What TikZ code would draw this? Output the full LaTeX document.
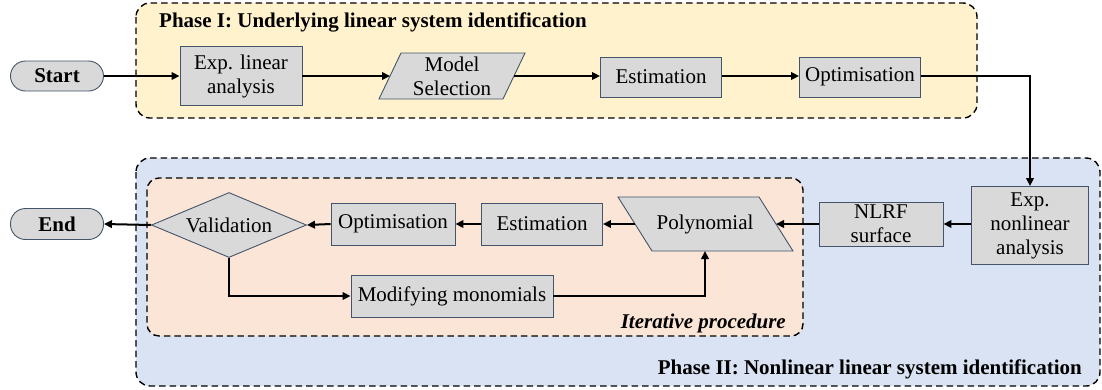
\documentclass[tikz,border=0pt]{standalone}
\usepackage{fontspec}
\setmainfont{Liberation Serif}
\usetikzlibrary{shapes.geometric,arrows.meta}
\definecolor{phaseone}{HTML}{FFF2CC}
\definecolor{phasetwo}{HTML}{DAE3F3}
\definecolor{iterfill}{HTML}{FBE5D6}
\definecolor{boxfill}{HTML}{D9D9D9}
\definecolor{boxline}{HTML}{44546A}
\begin{document}
\begin{tikzpicture}[x=1pt,y=-1pt,
  every node/.style={font=\fontsize{21}{24}\selectfont, inner sep=0pt, align=center},
  procbox/.style={draw=boxline, line width=0.9pt, fill=boxfill, rectangle},
  termbox/.style={procbox, rounded corners=15pt, font=\fontsize{21}{24}\selectfont\bfseries},
  ioshape/.style={draw=boxline, line width=0.9pt, fill=boxfill},
  decbox/.style={draw=boxline, line width=0.9pt, fill=boxfill, diamond},
  groupbox/.style={draw=black, line width=1.4pt, dash pattern=on 6.5pt off 4pt, rounded corners=14pt},
  conn/.style={draw=black, line width=2pt, -{Triangle[length=8pt,width=7.5pt]}},
  grouptitle/.style={font=\fontsize{21}{24}\selectfont\bfseries}
]
\useasboundingbox (0,0) rectangle (1102,389);
% group boxes
\draw[groupbox, fill=phaseone] (136,3) rectangle (977,118);
\draw[groupbox, fill=phasetwo] (136,158) rectangle (1100,386);
\draw[groupbox, fill=iterfill, rounded corners=12pt] (147,178) rectangle (803,336);
\node[grouptitle, anchor=west] (t1) at (159,22.5) {Phase I: Underlying linear system identification};
\node[grouptitle, anchor=east] (t2) at (1082,369) {Phase II: Nonlinear linear system identification};
\node[grouptitle, font=\fontsize{21}{24}\selectfont\bfseries\itshape, anchor=east] (t3) at (786,323) {Iterative procedure};
% parallelogram outlines (drawn under their text nodes)
\draw[ioshape] (401,53) -- (525,53) -- (503,99) -- (379,99) -- cycle;
\draw[ioshape] (618,197) -- (759,197) -- (793,251) -- (652,251) -- cycle;
\coordinate (modelW) at (390,76);
\coordinate (modelE) at (514,76);
\coordinate (polyE) at (776,224);
\coordinate (polyW) at (635,224);
\coordinate (polyS) at (705,251);
% nodes
\node[termbox, minimum width=93pt, minimum height=30pt] (start) at (57,76) {Start};
\node[procbox, minimum width=122pt, minimum height=59pt] (expl) at (241,76) {Exp. linear\\analysis};
\node (model) at (452,76) {Model\\Selection};
\node[procbox, minimum width=121pt, minimum height=40pt] (est1) at (661,77) {Estimation};
\node[procbox, minimum width=121pt, minimum height=40pt] (opt1) at (860,77) {Optimisation};
\node[procbox, minimum width=117pt, minimum height=78pt] (expn) at (1030,225.5) {Exp.\\nonlinear\\analysis};
\node[procbox, minimum width=124pt, minimum height=44pt] (nlrf) at (881,224) {NLRF\\surface};
\node (poly) at (705,224) {Polynomial};
\node[procbox, minimum width=121pt, minimum height=42pt] (est2) at (542,224) {Estimation};
\node[procbox, minimum width=124pt, minimum height=42pt] (opt2) at (393,224) {Optimisation};
\node[decbox, aspect=2.4, minimum width=155pt, minimum height=65pt] (valid) at (229,225) {Validation};
\node[termbox, minimum width=93pt, minimum height=31pt] (end) at (57,224) {End};
\node[procbox, minimum width=202pt, minimum height=42pt] (modify) at (452,296) {Modifying monomials};
% connectors
\draw[conn] (start.east) -- (expl.west |- start.east);
\draw[conn] (expl.east |- modelW) -- (modelW);
\draw[conn] (modelE) -- (est1.west |- modelE);
\draw[conn] (est1.east |- modelE) -- (opt1.west |- modelE);
\draw[conn] (opt1.east |- modelE) -| (expn.north);
\draw[conn] (expn.west |- nlrf.east) -- (nlrf.east);
\draw[conn] (nlrf.west) -- (polyE);
\draw[conn] (polyW) -- (est2.east);
\draw[conn] (est2.west) -- (opt2.east);
\draw[conn] (opt2.west) -- (valid.east);
\draw[conn] (valid.west) -- (end.east);
\draw[conn] (valid.south) |- (modify.west);
\draw[conn] (modify.east) -| (polyS);
\end{tikzpicture}
\end{document}
